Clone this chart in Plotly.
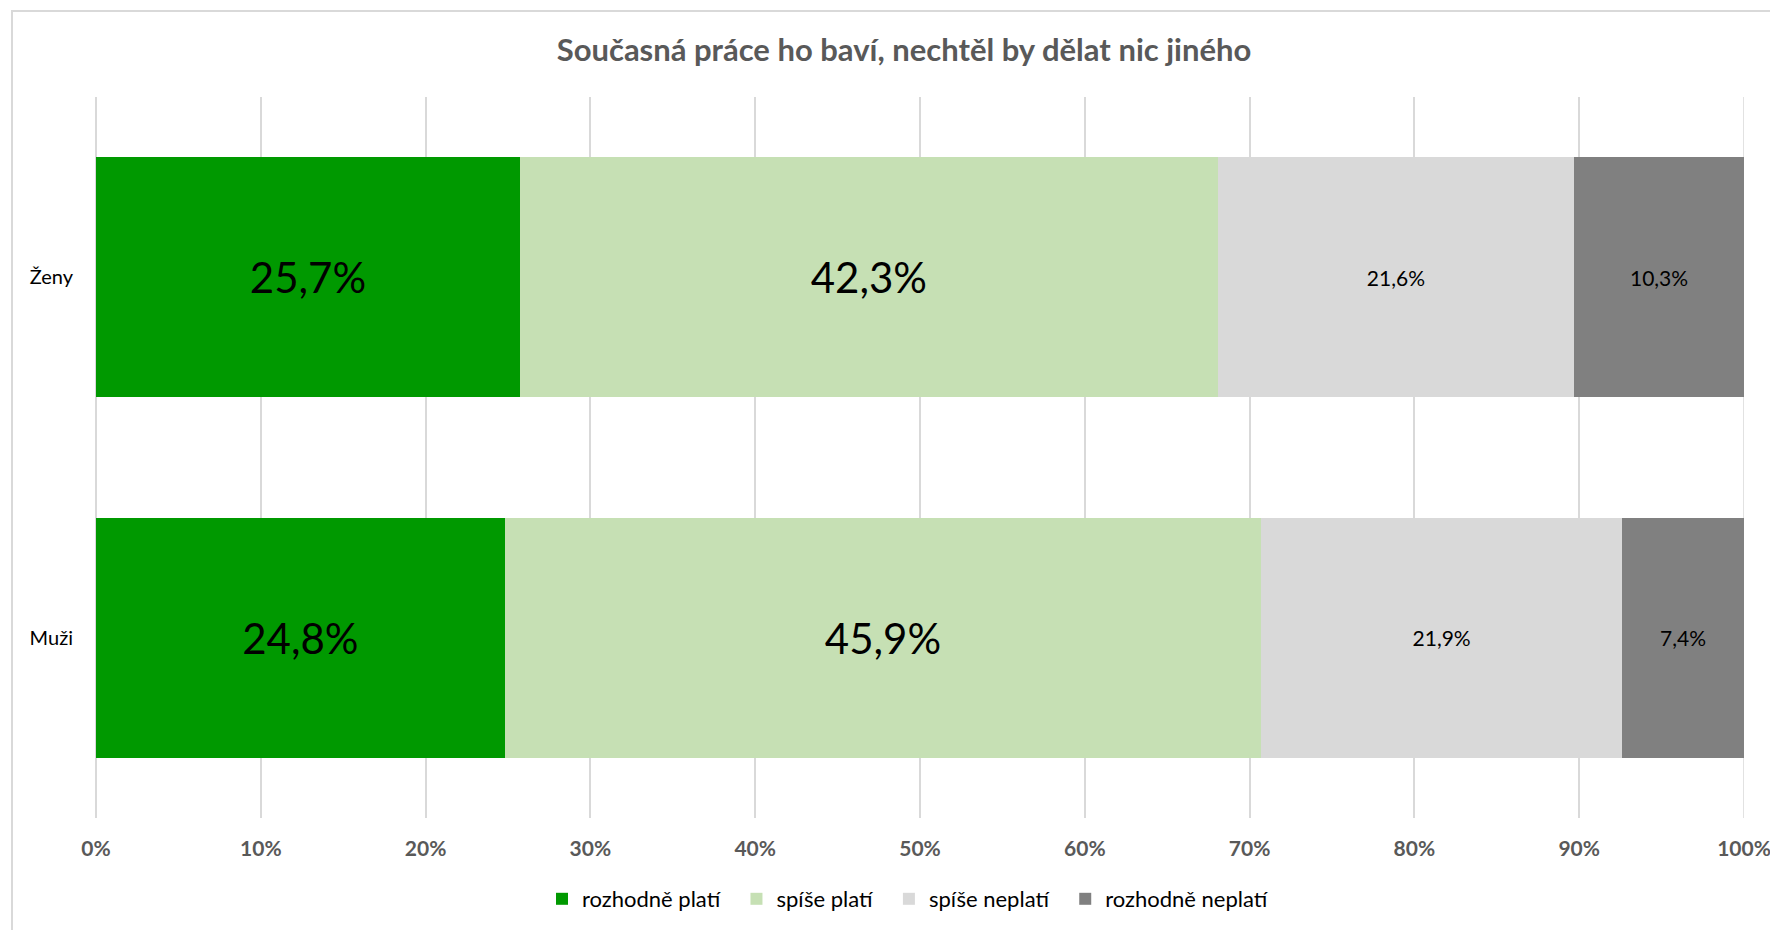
import plotly.graph_objects as go

categories = ["Muži", "Ženy"]
series_names = ["rozhodně platí", "spíše platí", "spíše neplatí", "rozhodně neplatí"]
values_rozhodne_plati = [24.8, 25.7]
values_spise_plati = [45.9, 42.3]
values_spise_neplati = [21.9, 21.6]
values_rozhodne_neplati = [7.4, 10.3]
tick_vals = [0, 0.1, 0.2, 0.3, 0.4, 0.5, 0.6, 0.7, 0.8, 0.9, 1.0]
tick_text = ["0%", "10%", "20%", "30%", "40%", "50%", "60%", "70%", "80%", "90%", "100%"]

colors = ["#009900", "#C6E0B4", "#D9D9D9", "#808080"]
label_sizes = [42, 42, 21, 21]
all_values = [values_rozhodne_plati, values_spise_plati, values_spise_neplati, values_rozhodne_neplati]

W, H = 1778, 930
L, R, T, B = 88, 42, 89, 120
FONT = "Lato"
NB = "\u00a0"

fig = go.Figure()
for i, (name, vals, col, fs) in enumerate(zip(series_names, all_values, colors, label_sizes)):
    legend_name = name + (NB * 2 if i < len(series_names) - 1 else "")
    fig.add_trace(go.Bar(
        y=categories, x=vals, name=legend_name, orientation="h",
        marker=dict(color=col, line=dict(width=0)),
        text=[f"{v:.1f}%".replace(".", ",") for v in vals],
        textposition="inside", insidetextanchor="middle",
        textfont=dict(family=FONT, size=fs, color="#000000"),
        constraintext="none",
    ))

pw = W - L - R
ph = H - T - B

fig.update_layout(
    width=W, height=H,
    margin=dict(l=L, r=R, t=T, b=B),
    barmode="stack", barnorm="fraction", bargap=0.333,
    plot_bgcolor="white", paper_bgcolor="white",
    font=dict(family=FONT, color="#000000"),
    title=dict(text="<b>Současná práce ho baví, nechtěl by dělat nic jiného</b>",
               x=896 / W, xanchor="center", xref="container",
               y=1 - 42 / H, yanchor="middle", yref="container",
               font=dict(family=FONT, size=31, color="#595959")),
    xaxis=dict(range=[0, 1.0], tickvals=tick_vals, ticktext=tick_text,
               showgrid=True, gridcolor="#D9D9D9", gridwidth=1.5,
               zeroline=True, zerolinecolor="#D9D9D9", zerolinewidth=1.5,
               showline=False, ticks="", ticklabelstandoff=16,
               tickfont=dict(family=FONT, size=21, color="#595959", weight="bold"),
               fixedrange=True),
    yaxis=dict(showgrid=False, zeroline=False, showline=False, ticks="",
               ticklabelstandoff=22,
               tickfont=dict(family=FONT, size=20, color="#000000")),
    legend=dict(orientation="h", xanchor="center", x=(900 - L) / pw,
                yanchor="middle", y=(H - B - 891) / ph,
                font=dict(family=FONT, size=22, color="#000000"),
                traceorder="normal", itemwidth=30),
    showlegend=True,
)

# 100% gridline on the right edge
fig.add_shape(type="line", xref="x", yref="paper", x0=1.0, x1=1.0, y0=0, y1=1,
              line=dict(color="#D9D9D9", width=1.5), layer="below")

# chart border (top and left edges)
fig.add_shape(type="line", xref="paper", yref="paper",
              x0=(3 - L) / pw, x1=(W - L) / pw, y0=(H - B - 3) / ph, y1=(H - B - 3) / ph,
              line=dict(color="#D9D9D9", width=2))
fig.add_shape(type="line", xref="paper", yref="paper",
              x0=(4 - L) / pw, x1=(4 - L) / pw, y0=(H - B - 3) / ph, y1=-B / ph,
              line=dict(color="#D9D9D9", width=2))

fig.write_html("out.html")
